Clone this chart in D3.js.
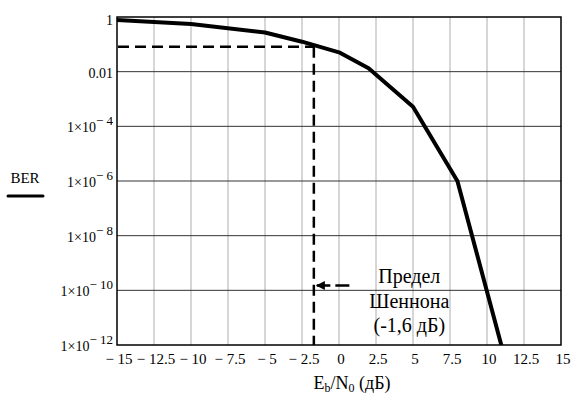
<!DOCTYPE html>
<html>
<head>
<meta charset="utf-8">
<script src="https://cdn.jsdelivr.net/npm/d3@7"></script>
<style>
  body { margin: 0; background: #fff; }
</style>
</head>
<body>
<div id="chart"></div>
<script>
// Data
const ebn0 = [-15, -10, -5, -2.5, 0, 2, 5, 8, 11]
const ber = [0.78, 0.55, 0.27, 0.125, 0.051, 0.0133, 5.2e-4, 1e-6, 8.5e-13]
const xTicks = [-15, -12.5, -10, -7.5, -5, -2.5, 0, 2.5, 5, 7.5, 10, 12.5, 15]
const yExponents = [0, -2, -4, -6, -8, -10, -12]
const shannonX = -1.7
const shannonBer = 0.082
const arrowFrom = [0.7, 1.5e-10]
const arrowTo = [-1.5, 1.5e-10]
const noteLines = ['Предел', 'Шеннона', '(-1,6 дБ)']

const width = 573
const height = 394
const margin = { top: 17, right: 12, bottom: 49, left: 117 }
const serif = '"Liberation Serif", "Times New Roman", serif'

const svg = d3.select('#chart').append('svg')
    .attr('width', width)
    .attr('height', height)
    .style('font-family', serif)

const x = d3.scaleLinear()
    .domain([-15, 15])
    .range([margin.left, width - margin.right])
const y = d3.scaleLog()
    .domain([1e-12, 1])
    .range([height - margin.bottom, margin.top])

const [x0, x1] = x.range()
const [yb, yt] = y.range()

// Grid
svg.append('g').selectAll('line')
    .data(xTicks.slice(1, -1))
    .join('line')
    .attr('x1', d => x(d)).attr('x2', d => x(d))
    .attr('y1', yt).attr('y2', yb)
    .attr('stroke', '#c8c8c8')
    .attr('stroke-width', 1.5)

svg.append('g').selectAll('line')
    .data(yExponents.slice(1, -1))
    .join('line')
    .attr('x1', x0).attr('x2', x1)
    .attr('y1', d => y(Math.pow(10, d))).attr('y2', d => y(Math.pow(10, d)))
    .attr('stroke', '#333')
    .attr('stroke-width', 1)

// Frame
svg.append('rect')
    .attr('x', x0).attr('y', yt)
    .attr('width', x1 - x0).attr('height', yb - yt)
    .attr('fill', 'none')
    .attr('stroke', '#000')
    .attr('stroke-width', 1.5)

// Y tick labels
const yLabels = svg.append('g').selectAll('text')
    .data(yExponents)
    .join('text')
    .attr('x', x0 - 4)
    .attr('y', d => y(Math.pow(10, d)) + (d === 0 ? 8 : 6))
    .attr('text-anchor', 'end')
    .style('font-family', serif)
    .attr('font-size', 14)
yLabels.each(function(d) {
    const t = d3.select(this)
    if (d === 0) t.text('1')
    else if (d === -2) t.text('0.01')
    else {
        t.append('tspan').text('1×10')
        t.append('tspan').attr('dy', -7).attr('font-size', 13).text('− ' + (-d))
    }
})

// X tick labels
svg.append('g').selectAll('text')
    .data(xTicks)
    .join('text')
    .attr('x', d => x(d) + 2)
    .attr('y', yb + 19)
    .attr('text-anchor', 'middle')
    .style('font-family', serif)
    .attr('font-size', 15)
    .text(d => d < 0 ? '− ' + (-d) : String(d))

// Clip
svg.append('clipPath').attr('id', 'plot')
    .append('rect')
    .attr('x', x0).attr('y', yt)
    .attr('width', x1 - x0).attr('height', yb - yt)

// Shannon limit dashes
const dash = svg.append('g')
    .attr('stroke', '#000')
    .attr('stroke-width', 2.5)
    .attr('stroke-dasharray', '11,6')
    .attr('fill', 'none')
dash.append('line')
    .attr('x1', x0 + 1).attr('x2', x(shannonX))
    .attr('y1', y(shannonBer)).attr('y2', y(shannonBer))
dash.append('line')
    .attr('x1', x(shannonX)).attr('x2', x(shannonX))
    .attr('y1', y(shannonBer)).attr('y2', yb)

// BER curve
const line = d3.line()
    .x(i => x(ebn0[i]))
    .y(i => y(ber[i]))
svg.append('path')
    .datum(d3.range(ebn0.length))
    .attr('clip-path', 'url(#plot)')
    .attr('d', line)
    .attr('fill', 'none')
    .attr('stroke', '#000')
    .attr('stroke-width', 4)
    .attr('stroke-linejoin', 'round')

// Arrow
svg.append('defs').append('marker')
    .attr('id', 'head')
    .attr('viewBox', '0 0 10 10')
    .attr('refX', 9).attr('refY', 5)
    .attr('markerWidth', 5).attr('markerHeight', 3.6)
    .attr('markerUnits', 'strokeWidth')
    .attr('orient', 'auto')
    .append('path')
    .attr('d', 'M0,0 L10,5 L0,10 Z')
    .attr('fill', '#000')
svg.append('line')
    .attr('x1', x(arrowFrom[0])).attr('y1', y(arrowFrom[1]))
    .attr('x2', x(arrowTo[0])).attr('y2', y(arrowTo[1]))
    .attr('stroke', '#000')
    .attr('stroke-width', 2.5)
    .attr('stroke-dasharray', '14,5')
    .attr('marker-end', 'url(#head)')

svg.append('g').selectAll('text')
    .data(noteLines)
    .join('text')
    .attr('x', x(4.75))
    .attr('y', (d, i) => 283 + i * 24.5)
    .attr('text-anchor', 'middle')
    .style('font-family', serif)
    .attr('font-size', 20)
    .text(d => d)

// Axis titles
const xt = svg.append('text')
    .attr('x', 352).attr('y', 389)
    .attr('text-anchor', 'middle')
    .style('font-family', serif)
    .attr('font-size', 18)
xt.append('tspan').text('E')
xt.append('tspan').attr('font-size', 12).attr('dy', 3).text('b')
xt.append('tspan').attr('dy', -3).text('/N')
xt.append('tspan').attr('font-size', 12).attr('dy', 3).text('0')
xt.append('tspan').attr('dy', -3).text(' (дБ)')

svg.append('text')
    .attr('x', 25).attr('y', 183)
    .attr('text-anchor', 'middle')
    .style('font-family', serif)
    .attr('font-size', 15)
    .text('BER')
svg.append('line')
    .attr('x1', 8).attr('x2', 43)
    .attr('y1', 196).attr('y2', 196)
    .attr('stroke', '#000')
    .attr('stroke-width', 3)
    .attr('stroke-linecap', 'round')
</script>
</body>
</html>
